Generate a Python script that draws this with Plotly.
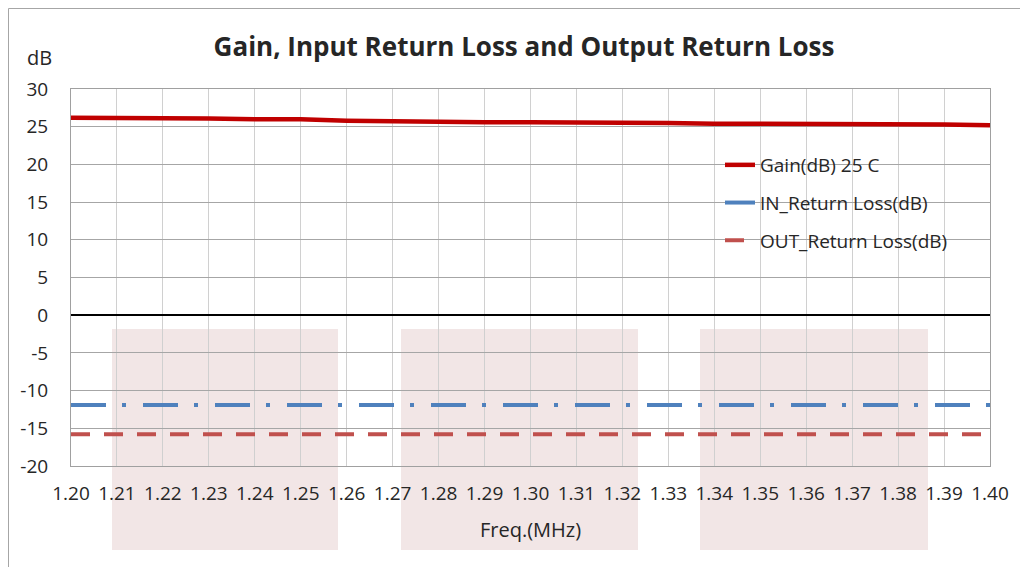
import plotly.graph_objects as go

freq = [1.20, 1.21, 1.22, 1.23, 1.24, 1.25, 1.26, 1.27, 1.28, 1.29, 1.30,
        1.31, 1.32, 1.33, 1.34, 1.35, 1.36, 1.37, 1.38, 1.39, 1.40]
gain = [26.2, 26.2, 26.1, 26.1, 26.0, 26.0, 25.8, 25.7, 25.7, 25.6, 25.6,
        25.6, 25.5, 25.5, 25.4, 25.4, 25.4, 25.3, 25.3, 25.3, 25.2]
in_rl = [-11.9] * 21
out_rl = [-15.8] * 21
tick_labels = [f"{f:.2f}" for f in freq]
y_ticks = [30, 25, 20, 15, 10, 5, 0, -5, -10, -15, -20]
y_tick_labels = [str(v) for v in y_ticks]

OFF = 8  # page body margin
PL, PR, PT, PB = 71, 990, 89, 466  # plot area in screen pixels
W, H = 1028 - OFF, 567 - OFF
L, T = PL - OFF, PT - OFF
R, B = 1028 - PR, 567 - PB
pw, ph = PR - PL, PB - PT

def px(x):
    return (x - PL) / pw

def py(y):
    return 1 - (y - PT) / ph

def cy(y):
    return 1 - (y - OFF) / H

FONT = "Open Sans"
TXT = "#262626"
fig = go.Figure()
fig.add_trace(go.Scatter(x=freq, y=gain, mode="lines", name="Gain(dB) 25 C",
                         line=dict(color="#c00000", width=4.5), legendgroup="a"))
fig.add_trace(go.Scatter(x=freq, y=in_rl, mode="lines", name="IN_Return Loss(dB)",
                         line=dict(color="#4f81bd", width=4, dash="35px,16px,4px,17px"),
                         legendgroup="b"))
fig.add_trace(go.Scatter(x=freq, y=out_rl, mode="lines", name="OUT_Return Loss(dB)",
                         line=dict(color="#c0504d", width=4, dash="19px,14px"),
                         legendgroup="c"))

shapes = []
for x0, x1 in [(112, 338), (401, 638), (700, 928)]:
    shapes.append(dict(type="rect", xref="paper", yref="paper",
                       x0=px(x0), x1=px(x1), y0=py(550), y1=py(329),
                       fillcolor="#f2e6e6", line=dict(width=0), layer="below"))
shapes.append(dict(type="rect", xref="paper", yref="paper",
                   x0=px(8.5), x1=px(1040), y0=py(580), y1=py(8.5),
                   line=dict(color="#a6a6a6", width=1), fillcolor="rgba(0,0,0,0)",
                   layer="below"))

fig.update_layout(
    width=W, height=H,
    margin=dict(l=L, r=R, t=T, b=B),
    paper_bgcolor="white", plot_bgcolor="rgba(0,0,0,0)",
    font=dict(family=FONT, size=19, color=TXT),
    title=dict(text="<b>Gain, Input Return Loss and Output Return Loss</b>",
               x=(524 - OFF) / W, xanchor="center", y=cy(47), yanchor="middle",
               font=dict(size=26, color=TXT)),
    showlegend=True,
    legend=dict(x=px(720), y=py(146), xanchor="left", yanchor="top",
                bgcolor="rgba(0,0,0,0)", font=dict(size=19, color=TXT),
                tracegroupgap=10, itemwidth=30),
    shapes=shapes,
    annotations=[
        dict(text="dB", xref="paper", yref="paper", x=px(39), y=py(58),
             showarrow=False, font=dict(size=20), xanchor="center", yanchor="middle"),
        dict(text="Freq.(MHz)", xref="paper", yref="paper", x=px(530), y=py(529),
             showarrow=False, font=dict(size=20), xanchor="center", yanchor="middle"),
    ],
)
fig.update_xaxes(range=[1.20, 1.40], tickvals=freq, ticktext=tick_labels,
                 showgrid=True, gridcolor="#d0d0d0", gridwidth=1,
                 showline=True, linecolor="#a0a0a0", mirror=True, linewidth=1,
                 ticks="", ticklabelstandoff=10, zeroline=False,
                 tickfont=dict(size=19))
fig.update_yaxes(range=[-20, 30], tickvals=y_ticks, ticktext=y_tick_labels,
                 showgrid=True, gridcolor="#a6a6a6",
                 gridwidth=1, showline=True, linecolor="#a0a0a0", mirror=True,
                 zeroline=True, zerolinecolor="#000000", zerolinewidth=1.5,
                 ticks="", ticklabelstandoff=18, tickfont=dict(size=19))

fig.write_html("out.html")
